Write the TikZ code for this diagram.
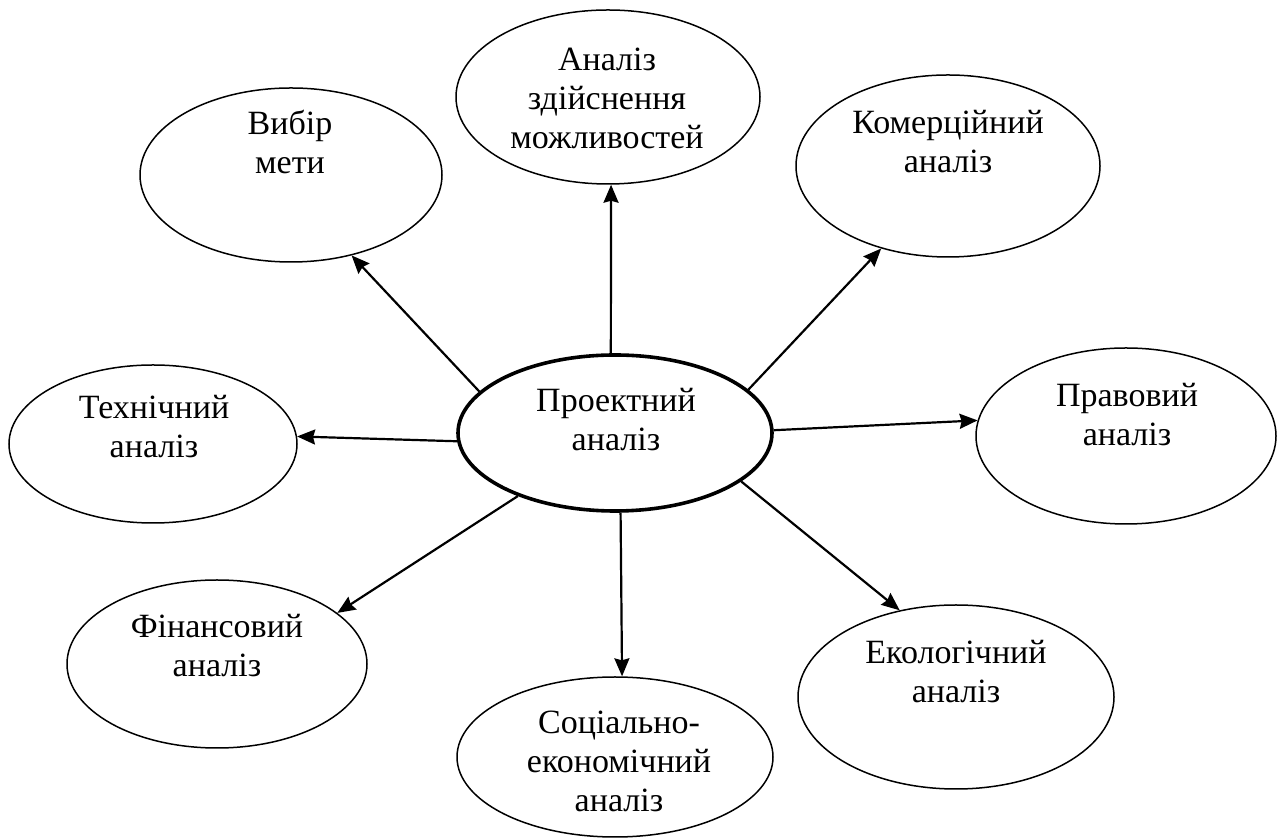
\documentclass[tikz,border=0pt]{standalone}
\usepackage{fontspec}
\setmainfont{Liberation Serif}
\usetikzlibrary{shapes.geometric,arrows.meta}
\tikzset{
  oval/.style={ellipse,draw=black,line width=1.5pt,inner sep=0pt,fill=white},
  mainoval/.style={oval,line width=3.6pt},
  lbl/.style={align=center,inner sep=0pt,font=\fontsize{34}{39}\selectfont},
  link/.style={line width=2.2pt,-{Stealth[length=18pt,width=15pt,inset=2pt]}}
}
\begin{document}
\begin{tikzpicture}[x=1pt,y=1pt]
\useasboundingbox[fill=white] (0,0) rectangle (1282,840);
% ellipses
\node[mainoval,minimum width=314pt,minimum height=156pt] (c) at (615,407) {};
\node[oval,minimum width=302pt,minimum height=174pt] (v1) at (291,665) {};
\node[oval,minimum width=304pt,minimum height=174pt] (v2) at (608,743) {};
\node[oval,minimum width=304pt,minimum height=182pt] (v3) at (948,674) {};
\node[oval,minimum width=288pt,minimum height=158pt] (v4) at (153,396) {};
\node[oval,minimum width=300pt,minimum height=176pt] (v5) at (1126,404) {};
\node[oval,minimum width=300pt,minimum height=168pt] (v6) at (217,176) {};
\node[oval,minimum width=316pt,minimum height=160pt] (v7) at (615,83) {};
\node[oval,minimum width=316pt,minimum height=184pt] (v8) at (956,143) {};
% texts
\node[lbl] (tc) at (616,420) {Проектний\\аналіз};
\node[lbl] (t1) at (290,697.5) {Вибір\\мети};
\node[lbl] (t2) at (607,742) {Аналіз\\здійснення\\можливостей};
\node[lbl] (t3) at (948,698) {Комерційний\\аналіз};
\node[lbl] (t4) at (154,413) {Технічний\\аналіз};
\node[lbl] (t5) at (1127,425) {Правовий\\аналіз};
\node[lbl] (t6) at (217,194) {Фінансовий\\аналіз};
\node[lbl] (t7) at (619,79) {Соціально-\\економічний\\аналіз};
\node[lbl] (t8) at (956,168) {Екологічний\\аналіз};
% connectors
\draw[link] (c.163.1) -- (v1.307.7);
\draw[link] (c.93) -- (v2.272);
\draw[link] (c.18.4) -- (v3.231);
\draw[link] (c.183.6) -- (v4.3.7);
\draw[link] (c.1.8) -- (v5.174.3);
\draw[link] (c.213.3) -- (v6.23.4);
\draw[link] (c.274.5) -- (v7.85.7);
\draw[link] (c.339.5) -- (v8.123);
\end{tikzpicture}
\end{document}
